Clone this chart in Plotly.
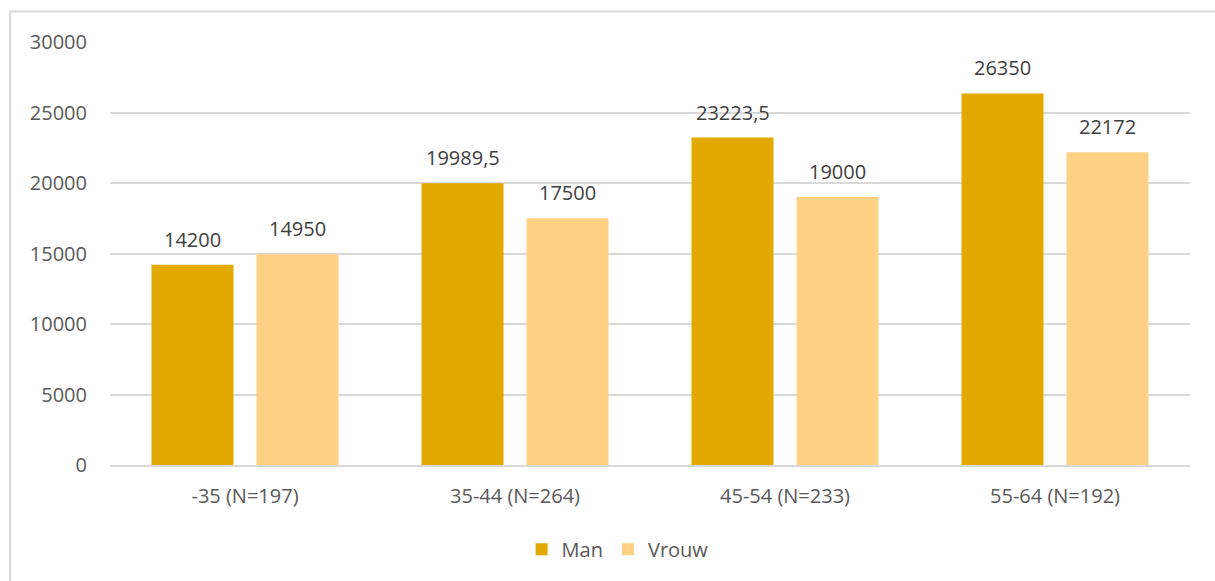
import plotly.graph_objects as go

categories = ["-35 (N=197)", "35-44 (N=264)", "45-54 (N=233)", "55-64 (N=192)"]
man = [14200, 19989.5, 23223.5, 26350]
vrouw = [14950, 17500, 19000, 22172]
y_ticks = [0, 5000, 10000, 15000, 20000, 25000, 30000]

FONT = "Open Sans"
TEXT = "#595959"
LABEL = "#404040"
HALF_SLOT = 52.5  # px offset from category centre to each bar centre


def fmt(v):
    s = f"{v:g}"
    return s.replace(".", ",")


fig = go.Figure()
fig.add_trace(go.Bar(
    name="Man", x=categories, y=man,
    marker=dict(color="#E2AA00", line=dict(width=0)),
))
fig.add_trace(go.Bar(
    name="Vrouw", x=categories, y=vrouw,
    marker=dict(color="#FFD185", line=dict(width=0)),
))

annotations = []
for series, shift in ((man, -HALF_SLOT), (vrouw, HALF_SLOT)):
    for cat, v in zip(categories, series):
        annotations.append(dict(
            x=cat, y=v, xref="x", yref="y", text=fmt(v), showarrow=False,
            xshift=shift, yshift=10, yanchor="bottom",
            font=dict(family=FONT, size=20, color=LABEL),
        ))

fig.update_layout(
    width=1215, height=581,
    margin=dict(l=110, r=25, t=42, b=116, autoexpand=False),
    paper_bgcolor="white", plot_bgcolor="white",
    barmode="group", bargap=0.222, bargroupgap=0.219,
    font=dict(family=FONT, size=20, color=TEXT),
    showlegend=True,
    legend=dict(orientation="h", x=0.47, xanchor="center", y=-0.199, yanchor="middle",
                font=dict(family=FONT, size=20, color=TEXT), itemwidth=30,
                traceorder="normal"),
    xaxis=dict(showgrid=False, showline=True, linecolor="#D9D9D9", linewidth=2,
               ticks="", tickfont=dict(family=FONT, size=20, color=TEXT),
               ticklabelstandoff=12),
    yaxis=dict(range=[0, 30000], tickvals=y_ticks, ticktext=[str(t) for t in y_ticks],
               showgrid=True, gridcolor="#D9D9D9", gridwidth=2, zeroline=False,
               showline=False, ticks="", ticklabelstandoff=22,
               tickfont=dict(family=FONT, size=20, color=TEXT)),
    annotations=annotations,
    shapes=[dict(type="rect", xref="paper", yref="paper",
                 x0=-0.0925, x1=1.05, y0=-0.6, y1=1.072,
                 line=dict(color="#D9D9D9", width=2), layer="below")],
)

fig.write_html("out.html")
